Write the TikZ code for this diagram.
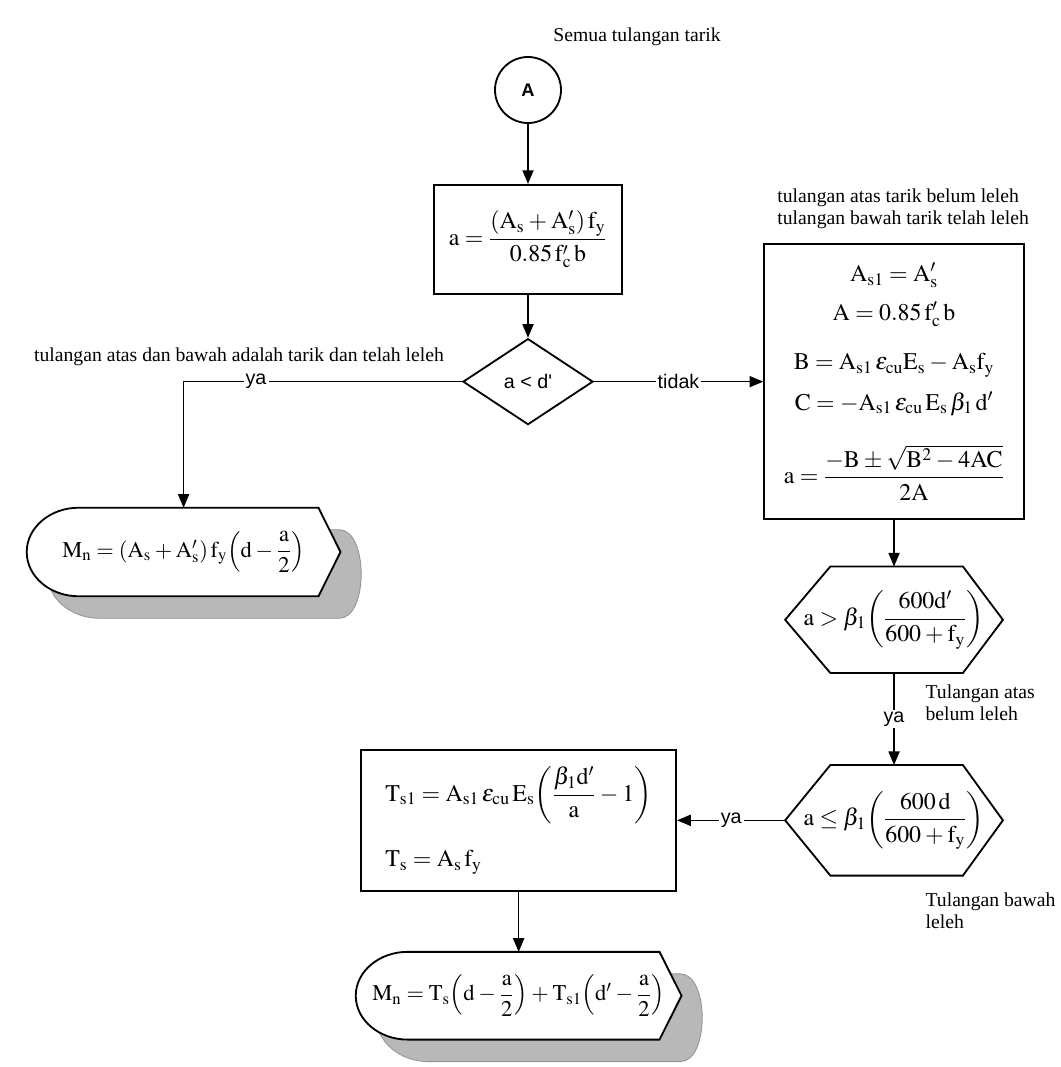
\documentclass[tikz,border=0pt]{standalone}
\usepackage{amsmath}
\usepackage{mathptmx}
\usepackage{fontspec}
\setmainfont{Liberation Serif}
\newfontfamily\sansfont{Liberation Sans}
\usepackage{tikz}
\usetikzlibrary{shapes.geometric, arrows.meta, positioning, backgrounds, calc}

\newcommand{\rumusfont}{\fontsize{17}{20}\selectfont\medmuskip=3mu plus 2mu minus 3mu\thickmuskip=4mu plus 3mu}
\newcommand{\tampilfont}{\fontsize{16}{19}\selectfont\medmuskip=3mu plus 2mu minus 3mu\thickmuskip=4mu plus 3mu}
\newcommand{\sanskecil}{\sansfont\fontsize{14}{16}\selectfont}

% garis tepi bentuk segi enam
\newcommand{\segienam}[1]{%
  \draw[garis] (#1.west) -- ([xshift=1.13cm]#1.north west) -- ([xshift=-1cm]#1.north east)
    -- (#1.east) -- ([xshift=-1cm]#1.south east) -- ([xshift=1.13cm]#1.south west) -- cycle;}

% bentuk tampilan dengan bayangan
\newcommand{\tampilan}[1]{%
  \fill[bayangan] let \p1=($(#1.north)-(#1.south)$) in
    ([shift={(0.52,-0.55)},xshift=1.3cm]#1.north west)
    -- ([shift={(0.52,-0.55)},xshift=-0.55cm]#1.north east)
    .. controls ([shift={(0.52,-0.55)},xshift=0.18cm]#1.north east)
       and ([shift={(0.52,-0.55)},xshift=0.18cm]#1.south east)
    .. ([shift={(0.52,-0.55)},xshift=-0.55cm]#1.south east)
    -- ([shift={(0.52,-0.55)},xshift=1.3cm]#1.south west)
    arc[start angle=270, end angle=90, x radius=1.3cm, y radius=0.5*\y1] -- cycle;
  \draw[garis, fill=white] let \p1=($(#1.north)-(#1.south)$) in
    ([xshift=1.3cm]#1.north west) -- ([xshift=-0.55cm]#1.north east)
    -- (#1.east) -- ([xshift=-0.55cm]#1.south east)
    -- ([xshift=1.3cm]#1.south west)
    arc[start angle=270, end angle=90, x radius=1.3cm, y radius=0.5*\y1] -- cycle;}

\begin{document}
\begin{tikzpicture}[
  kotak/.style={draw, line width=1.3pt, font=\rumusfont, inner sep=2pt, align=center},
  keputusan/.style={draw, diamond, line width=1.3pt, font=\sanskecil, inner sep=0pt,
    minimum width=3.25cm, minimum height=2.15cm},
  konektor/.style={draw, circle, line width=1.3pt, minimum size=1.65cm, inner sep=0pt,
    font=\sansfont\bfseries\fontsize{13}{15}\selectfont},
  bentuk/.style={font=\rumusfont, inner sep=0pt},
  tampil/.style={font=\tampilfont, inner sep=0pt},
  catatan/.style={font=\fontsize{14}{15.6}\selectfont, inner sep=0pt, align=left},
  ket/.style={font=\sanskecil, fill=white, inner sep=1.5pt},
  panah/.style={-{Triangle[length=3.4mm,width=2.8mm]}, line width=0.8pt},
  garis/.style={line width=1.3pt},
  bayangan/.style={fill=black!28, draw=black!42, line width=0.6pt},
]
  \useasboundingbox (0,0) rectangle (26.5,-26.675);

  \node (A) [konektor] at (13.2,-2.25) {A};
  \node (awal) [catatan, anchor=west] at (13.83,-0.93) {Semua tulangan tarik};

  \node (tinggi) [kotak, minimum width=4.72cm, minimum height=2.72cm, below=1.5cm of A]
    {$\mathrm{a}=\dfrac{\left(\mathrm{A_s}+\mathrm{A}'_{\mathrm{s}}\right)\mathrm{f_y}}{0.85\,\mathrm{f}'_{\mathrm{c}}\,\mathrm{b}}$};
  \node (cek) [keputusan, below=1.08cm of tinggi] {a < d'};

  \node (mna) [tampil, minimum width=7.83cm, minimum height=2.2cm] at (4.59,-13.8)
    {$\mathrm{M_n}=\left(\mathrm{A_s}+\mathrm{A}'_{\mathrm{s}}\right)\mathrm{f_y}{\left(\mathrm{d}-\dfrac{\mathrm{a}}{2}\right)}$};
  \node (kiri) [catatan] at (5.975,-8.925) {tulangan atas dan bawah adalah tarik dan telah leleh};

  \node (rumus) [kotak, minimum width=6.5cm, minimum height=6.875cm, right=4.23cm of cek] {%
    $\mathrm{A_{s1}}=\mathrm{A}'_{\mathrm{s}}$\\[7.5pt]
    $\mathrm{A}=0.85\,\mathrm{f}'_{\mathrm{c}}\,\mathrm{b}$\\[15pt]
    $\mathrm{B}=\mathrm{A_{s1}}\,\varepsilon_{\mathrm{cu}}\mathrm{E_s}-\mathrm{A_s f_y}$\\[9pt]
    $\mathrm{C}=-\mathrm{A_{s1}}\,\varepsilon_{\mathrm{cu}}\,\mathrm{E_s}\,\beta_1\,\mathrm{d'}$\\[20pt]
    $\mathrm{a}=\dfrac{-\mathrm{B}\pm\sqrt{\mathrm{B}^2-4\mathrm{AC}}}{2\mathrm{A}}$};
  \node (judul) [catatan, anchor=south west] at ([xshift=0.35cm,yshift=0.36cm]rumus.north west)
    {tulangan atas tarik belum leleh\\tulangan bawah tarik telah leleh};

  \node (hexa) [bentuk, minimum width=5.43cm, minimum height=2.65cm, below=1.16cm of rumus]
    {$\mathrm{a}>\beta_1{\left(\dfrac{600\mathrm{d}'}{600+\mathrm{f_y}}\right)}$};
  \node (hexb) [bentuk, minimum width=5.43cm, minimum height=2.75cm, below=2.3cm of hexa]
    {$\mathrm{a}\leq\beta_1{\left(\dfrac{600\,\mathrm{d}}{600+\mathrm{f_y}}\right)}$};
  \node (ketA) [catatan, anchor=north west] at ([xshift=-1.94cm,yshift=-0.28cm]hexa.south east)
    {Tulangan atas\\belum leleh};
  \node (ketB) [catatan, anchor=north west] at ([xshift=-1.94cm,yshift=-0.43cm]hexb.south east)
    {Tulangan bawah\\leleh};

  \node (tegang) [kotak, align=left, minimum width=7.88cm, minimum height=3.53cm, left=2.7cm of hexb] {%
    $\mathrm{T_{s1}}=\mathrm{A_{s1}}\,\varepsilon_{\mathrm{cu}}\,\mathrm{E_s}{\left(\dfrac{\beta_1\mathrm{d'}}{\mathrm{a}}-1\right)}$\\[18pt]
    $\mathrm{T_s}=\mathrm{A_s}\,\mathrm{f_y}$};
  \node (mnb) [tampil, minimum width=8.13cm, minimum height=2.18cm, below=1.5cm of tegang]
    {$\mathrm{M_n}=\mathrm{T_s}{\left(\mathrm{d}-\dfrac{\mathrm{a}}{2}\right)}+\mathrm{T_{s1}}{\left(\mathrm{d'}-\dfrac{\mathrm{a}}{2}\right)}$};

  \draw[panah] (A) -- (tinggi);
  \draw[panah] (tinggi) -- (cek);
  \draw[panah] (cek.west) -| node[ket, pos=0.37] {ya} (mna.north);
  \draw[panah] (cek.east) -- node[ket] {tidak} (rumus.west);
  \draw[panah] (rumus) -- (hexa.north);
  \draw[panah] (hexa.south) -- node[ket] {ya} (hexb.north);
  \draw[panah] (hexb.west) -- node[ket] {ya} (tegang.east);
  \draw[panah] (tegang) -- (mnb.north);

  \begin{scope}[on background layer]
    \tampilan{mna}
    \tampilan{mnb}
    \segienam{hexa}
    \segienam{hexb}
  \end{scope}
\end{tikzpicture}
\end{document}
